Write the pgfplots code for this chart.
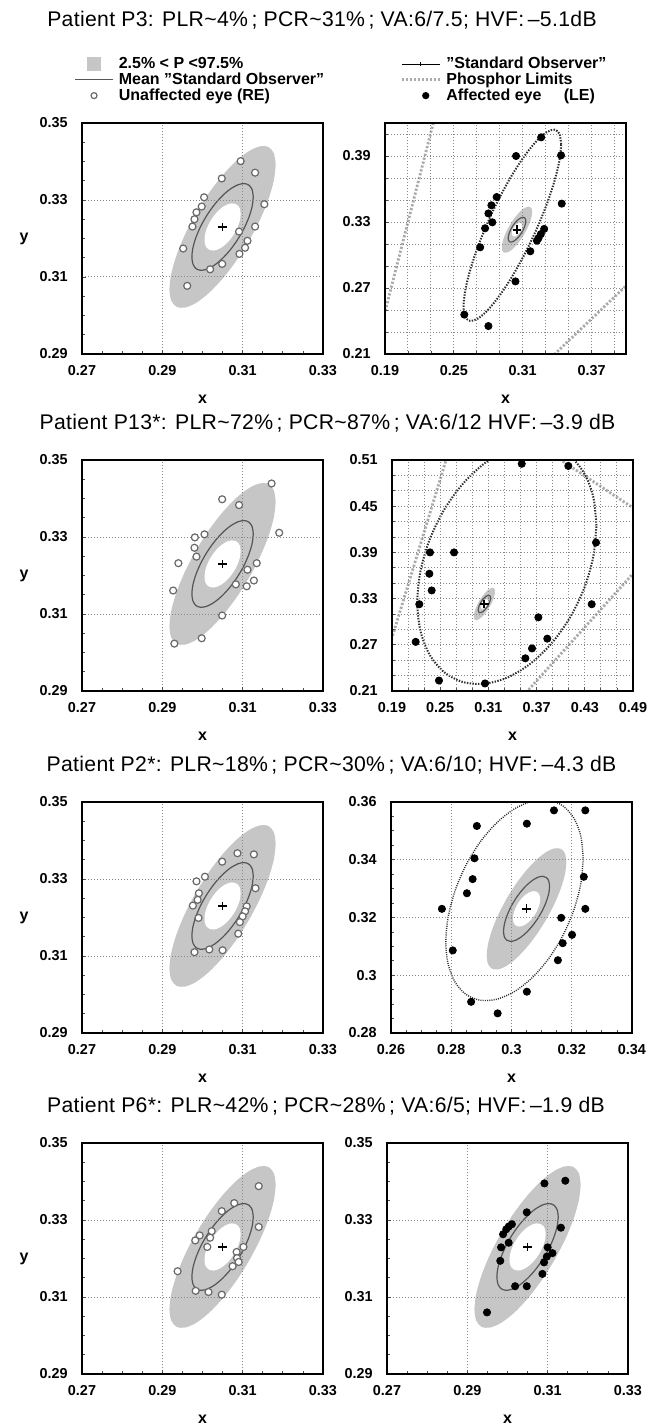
\documentclass[border=0pt]{standalone}
\usepackage{pgfplots}
\pgfplotsset{compat=1.18}
\usepackage{pgfplotstable}
\usepackage{fontspec}
\setmainfont{Liberation Sans}
\newfontfamily\titlefont{Liberation Sans}[LetterSpace=1.5]

\definecolor{band}{RGB}{198,198,198}
\definecolor{meangray}{RGB}{85,85,85}
\definecolor{circgray}{RGB}{105,105,105}
\definecolor{gridgray}{RGB}{135,135,135}
\definecolor{phosgray}{RGB}{170,170,170}
\definecolor{ellblack}{RGB}{45,45,45}

\pgfplotstableread{
x y
0.31823 0.33920
0.31778 0.34212
0.31646 0.34374
0.31436 0.34395
0.31162 0.34273
0.30842 0.34017
0.30500 0.33643
0.30158 0.33178
0.29839 0.32653
0.29565 0.32104
0.29354 0.31568
0.29222 0.31083
0.29177 0.30680
0.29222 0.30388
0.29354 0.30226
0.29565 0.30205
0.29839 0.30327
0.30158 0.30583
0.30500 0.30957
0.30842 0.31422
0.31161 0.31947
0.31436 0.32496
0.31646 0.33032
0.31778 0.33517
0.31823 0.33920
}\outerell

\pgfplotstableread{
x y
0.31264 0.33079
0.31238 0.33263
0.31161 0.33382
0.31040 0.33427
0.30882 0.33395
0.30698 0.33289
0.30500 0.33115
0.30302 0.32886
0.30118 0.32617
0.29960 0.32326
0.29839 0.32033
0.29762 0.31759
0.29736 0.31522
0.29762 0.31337
0.29839 0.31218
0.29960 0.31173
0.30118 0.31205
0.30302 0.31311
0.30500 0.31485
0.30698 0.31714
0.30882 0.31983
0.31040 0.32274
0.31161 0.32567
0.31238 0.32841
0.31264 0.33079
}\meanell

\pgfplotstableread{
x y
0.30950 0.32634
0.30935 0.32755
0.30890 0.32846
0.30818 0.32899
0.30725 0.32912
0.30617 0.32883
0.30500 0.32814
0.30384 0.32710
0.30275 0.32578
0.30182 0.32427
0.30110 0.32268
0.30065 0.32111
0.30050 0.31966
0.30065 0.31845
0.30110 0.31754
0.30182 0.31701
0.30275 0.31688
0.30384 0.31717
0.30500 0.31786
0.30617 0.31890
0.30725 0.32022
0.30818 0.32173
0.30890 0.32332
0.30935 0.32489
0.30950 0.32634
}\holeell

\pgfplotstableread{
x y
0.34350 0.40070
0.34205 0.41015
0.33780 0.41392
0.33105 0.41178
0.32225 0.40386
0.31200 0.39070
0.30100 0.37320
0.29000 0.35256
0.27975 0.33016
0.27095 0.30756
0.26420 0.28628
0.25995 0.26777
0.25850 0.25330
0.25995 0.24385
0.26420 0.24008
0.27095 0.24222
0.27975 0.25014
0.29000 0.26330
0.30100 0.28080
0.31200 0.30144
0.32225 0.32384
0.33105 0.34644
0.33780 0.36772
0.34205 0.38623
0.34350 0.40070
}\affA

\pgfplotstableread{
x y
0.44450 0.42500
0.44070 0.46155
0.42956 0.49220
0.41184 0.51487
0.38875 0.52800
0.36186 0.53070
0.33300 0.52280
0.30414 0.50482
0.27725 0.47800
0.25416 0.44415
0.23644 0.40560
0.22530 0.36495
0.22150 0.32500
0.22530 0.28845
0.23644 0.25780
0.25416 0.23513
0.27725 0.22200
0.30414 0.21930
0.33300 0.22720
0.36186 0.24518
0.38875 0.27200
0.41184 0.30585
0.42956 0.34440
0.44070 0.38505
0.44450 0.42500
}\affB

\pgfplotstableread{
x y
0.32380 0.34050
0.32302 0.34819
0.32074 0.35438
0.31712 0.35862
0.31240 0.36065
0.30690 0.36031
0.30100 0.35764
0.29510 0.35281
0.28960 0.34615
0.28488 0.33812
0.28126 0.32926
0.27898 0.32019
0.27820 0.31150
0.27898 0.30381
0.28126 0.29762
0.28488 0.29338
0.28960 0.29135
0.29510 0.29169
0.30100 0.29436
0.30690 0.29919
0.31240 0.30585
0.31712 0.31388
0.32074 0.32274
0.32302 0.33181
0.32380 0.34050
}\affC

\pgfplotsset{
  base/.style={
    scale only axis, width=120.5pt, height=115.5pt,
    anchor=north west, axis on top,
    tick align=inside, tick pos=left,
    major tick length=2pt, minor tick length=1.4pt,
    tick style={black!70, line width=0.4pt},
    axis line style={line width=1.1pt},
    major grid style={gridgray, line width=0.5pt, dash pattern=on 0.6pt off 0.9pt},
    minor grid style={gridgray, line width=0.5pt, dash pattern=on 0.6pt off 0.9pt},
    tick label style={font=\bfseries\fontsize{7.2}{8}\selectfont},
    /pgf/number format/assume math mode=true,
    xticklabel style={anchor=center, yshift=-8.5pt},
    yticklabel style={anchor=east, xshift=-3.6pt},
    xlabel={x},
    every axis x label/.style={at={(axis description cs:0.5,-0.195)}, anchor=center, font=\bfseries\fontsize{8}{9}\selectfont},
    every axis y label/.style={at={(axis description cs:-0.24,0.5)}, anchor=center, font=\bfseries\fontsize{8}{9}\selectfont},
  },
  leftp/.style={base, xmin=0.27, xmax=0.33, ymin=0.29, ymax=0.35,
    xtick={0.27,0.29,0.31,0.33}, ytick={0.29,0.31,0.33,0.35},
    minor tick num=3, grid=major, ylabel={y}},
  openpts/.style={only marks, mark=*, mark size=1.75pt, mark options={fill=white, draw=circgray, line width=0.6pt}},
  fillpts/.style={only marks, mark=*, mark size=1.8pt, mark options={fill=black, draw=black}},
  affell/.style={draw=ellblack, line width=1.0pt, dash pattern=on 0.7pt off 0.7pt, smooth},
  phos/.style={draw=phosgray, line width=1.4pt, dash pattern=on 1.1pt off 0.9pt},
  legsty/.style={legend style={draw=none, fill=none, inner sep=0pt, row sep=0.3pt, column sep=2.6pt,
      font=\bfseries\fontsize{8}{8}\selectfont,
      nodes={inner sep=0pt, text height=6.0pt, text depth=1.6pt}},
      legend cell align=left},
}

\newcommand{\stdobs}{%
  \addplot[fill=band, draw=none, smooth, forget plot] table {\outerell};
  \addplot[fill=white, draw=none, smooth, forget plot] table {\holeell};
  \addplot[draw=meangray, line width=0.6pt, smooth, forget plot] table {\meanell};
  \addplot[only marks, mark=+, mark size=2.2pt, mark options={line width=0.9pt}, forget plot] coordinates {(0.305,0.323)};
}
\newcommand{\qq}{\symbol{34}}
\newcommand{\tfont}{\titlefont\fontsize{10.6}{12}\selectfont}

\begin{document}
\begin{tikzpicture}
\useasboundingbox (0pt,0pt) rectangle (323.5pt,-712.5pt);

\node[font=\tfont] at (161pt,-10pt) {Patient P3: PLR\textasciitilde 4\%\,; PCR\textasciitilde 31\%\,; VA:6/7.5; HVF:\,–5.1dB};
\node[font=\tfont] at (163.75pt,-211.5pt) {Patient P13*: PLR\textasciitilde 72\%\,; PCR\textasciitilde 87\%\,; VA:6/12 HVF:\,–3.9 dB};
\node[font=\tfont] at (165.75pt,-382.5pt) {Patient P2*: PLR\textasciitilde 18\%\,; PCR\textasciitilde 30\%\,; VA:6/10; HVF:\,–4.3 dB};
\node[font=\tfont] at (163pt,-553pt) {Patient P6*: PLR\textasciitilde 42\%\,; PCR\textasciitilde 28\%\,; VA:6/5; HVF:\,–1.9 dB};

% ---------- Row 1 left
\begin{axis}[leftp, at={(41pt,-61.5pt)}, legsty,
  legend style={at={(axis description cs:-0.033,1.29)}, anchor=north west}]
  \addplot[fill=band, draw=none, smooth, area legend,
    legend image code/.code={\path[draw=none,fill=none] (0pt,-3pt) rectangle (19pt,3pt); \fill[band] (6pt,-3.6pt) rectangle (13pt,3.6pt);}] table {\outerell};
  \addlegendentry{2.5\% < P <97.5\%}
  \addplot[fill=white, draw=none, smooth, forget plot] table {\holeell};
  \addplot[draw=meangray, line width=0.6pt, smooth,
    legend image code/.code={\path[draw=none,fill=none] (0pt,-3pt) rectangle (19pt,3pt); \draw[meangray, line width=0.6pt] (0pt,0pt) -- (19pt,0pt);}] table {\meanell};
  \addlegendentry{Mean \qq Standard Observer\qq}
  \addplot[openpts,
    legend image code/.code={\path[draw=none,fill=none] (0pt,-3pt) rectangle (19pt,3pt); \draw[circgray, line width=0.6pt, fill=white] (9.5pt,0pt) circle (1.5pt);}] coordinates {
    (0.3095,0.3401) (0.3131,0.3371) (0.3048,0.3356) (0.3004,0.3307) (0.2998,0.3283) (0.3154,0.3289)
    (0.2985,0.3268) (0.2980,0.3250) (0.2975,0.3231) (0.3131,0.3231) (0.3091,0.3218) (0.3112,0.3194)
    (0.3106,0.3176) (0.3092,0.3160) (0.2952,0.3174) (0.3049,0.3134) (0.3019,0.3120) (0.2962,0.3077)};
  \addlegendentry{Unaffected eye (RE)}
  \addplot[only marks, mark=+, mark size=2.2pt, mark options={line width=0.9pt}, forget plot] coordinates {(0.305,0.323)};
\end{axis}

% ---------- Row 1 right
\begin{axis}[base, at={(192.5pt,-61.5pt)}, legsty,
  legend style={at={(axis description cs:0.062,1.29)}, anchor=north west},
  xmin=0.19, xmax=0.40, ymin=0.21, ymax=0.42,
  xtick={0.19,0.25,0.31,0.37}, ytick={0.21,0.27,0.33,0.39},
  minor xtick={0.21,0.23,0.27,0.29,0.33,0.35,0.39},
  minor ytick={0.23,0.25,0.29,0.31,0.35,0.37,0.41}, grid=both]
  \addplot[fill=band, draw=none, smooth, forget plot] table {\outerell};
  \addplot[fill=white, draw=none, smooth, forget plot] table {\holeell};
  \addplot[draw=meangray, line width=0.6pt, smooth, forget plot] table {\meanell};
  \addplot[only marks, mark=+, mark size=2.2pt, mark options={line width=0.9pt},
    legend image code/.code={\path[draw=none,fill=none] (0pt,-3pt) rectangle (19pt,3pt); \draw[black, line width=0.45pt] (0pt,0pt) -- (19pt,0pt); \draw[black, line width=0.45pt] (9.5pt,-1.1pt) -- (9.5pt,1.1pt);}] coordinates {(0.305,0.323)};
  \addlegendentry{\qq Standard Observer\qq}
  \addplot[phos,
    legend image code/.code={\path[draw=none,fill=none] (0pt,-3pt) rectangle (19pt,3pt); \draw[phosgray, line width=1.4pt, dash pattern=on 1.1pt off 0.9pt] (0pt,0pt) -- (19pt,0pt);}] coordinates {(0.185,0.228) (0.236,0.436)};
  \addlegendentry{Phosphor Limits}
  \addplot[phos, forget plot] coordinates {(0.33,0.202) (0.41,0.282)};
  \addplot[affell, forget plot] table {\affA};
  \addplot[fillpts,
    legend image code/.code={\path[draw=none,fill=none] (0pt,-3pt) rectangle (19pt,3pt); \fill[black] (12pt,0pt) circle (1.6pt);}] coordinates {
    (0.3261,0.4070) (0.3042,0.3900) (0.3434,0.3906) (0.2873,0.3527) (0.2827,0.3452) (0.2801,0.3378)
    (0.2835,0.3297) (0.2772,0.3243) (0.3440,0.3467) (0.3287,0.3237) (0.3258,0.3190) (0.3238,0.3154)
    (0.3224,0.3130) (0.2729,0.3070) (0.3166,0.3034) (0.3037,0.2760) (0.2591,0.2458) (0.2801,0.2354)};
  \addlegendentry{Affected eye\hspace{1.4em}(LE)}
\end{axis}

% ---------- Row 2 left
\begin{axis}[leftp, at={(41pt,-230pt)}]
  \stdobs
  \addplot[openpts] coordinates {
    (0.3172,0.3439) (0.3049,0.3398) (0.3091,0.3383) (0.3191,0.3311) (0.2981,0.3299) (0.3005,0.3307)
    (0.2980,0.3272) (0.2985,0.3249) (0.2940,0.3232) (0.3135,0.3232) (0.3112,0.3215) (0.3128,0.3187)
    (0.3083,0.3177) (0.3110,0.3172) (0.2927,0.3161) (0.3049,0.3096) (0.2998,0.3037) (0.2930,0.3023)};
\end{axis}

% ---------- Row 2 right
\begin{axis}[base, at={(196pt,-230pt)},
  xmin=0.19, xmax=0.49, ymin=0.21, ymax=0.51,
  xtick={0.19,0.25,0.31,0.37,0.43,0.49}, ytick={0.21,0.27,0.33,0.39,0.45,0.51},
  minor xtick={0.21,0.23,0.27,0.29,0.33,0.35,0.39,0.41,0.45,0.47},
  minor ytick={0.23,0.25,0.29,0.31,0.35,0.37,0.41,0.43,0.47,0.49}, grid=both]
  \stdobs
  \addplot[phos] coordinates {(0.185,0.262) (0.262,0.526)};
  \addplot[phos] coordinates {(0.35,0.20) (0.50,0.374)};
  \addplot[phos] coordinates {(0.39,0.517) (0.50,0.441)};
  \addplot[affell] table {\affB};
  \addplot[fillpts] coordinates {
    (0.3515,0.5051) (0.4095,0.5023) (0.4440,0.4028) (0.2373,0.3900) (0.2672,0.3900) (0.2365,0.3623)
    (0.2394,0.3406) (0.2240,0.3227) (0.4386,0.3227) (0.3722,0.3057) (0.2195,0.2738) (0.3833,0.2780)
    (0.3643,0.2653) (0.3560,0.2525) (0.2485,0.2236) (0.3058,0.2198)};
\end{axis}

% ---------- Row 3 left
\begin{axis}[leftp, at={(41pt,-401pt)}]
  \stdobs
  \addplot[openpts] coordinates {
    (0.3087,0.3367) (0.3128,0.3364) (0.3049,0.3345) (0.3006,0.3306) (0.2985,0.3294) (0.3132,0.3276)
    (0.2991,0.3263) (0.2988,0.3246) (0.2976,0.3231) (0.3110,0.3229) (0.3106,0.3216) (0.3100,0.3203)
    (0.3093,0.3188) (0.2990,0.3199) (0.3089,0.3158) (0.2980,0.3110) (0.3017,0.3117) (0.3050,0.3115)};
\end{axis}

% ---------- Row 3 right
\begin{axis}[base, at={(195.5pt,-401pt)},
  xmin=0.26, xmax=0.34, ymin=0.28, ymax=0.36,
  xtick={0.26,0.28,0.3,0.32,0.34}, ytick={0.28,0.3,0.32,0.34,0.36},
  minor tick num=3, grid=major]
  \stdobs
  \addplot[draw=ellblack, line width=0.7pt, dash pattern=on 0.5pt off 0.6pt, smooth] table {\affC};
  \addplot[fillpts] coordinates {
    (0.3141,0.3571) (0.3245,0.3571) (0.3051,0.3525) (0.2885,0.3517) (0.2877,0.3405) (0.2871,0.3333)
    (0.2852,0.3284) (0.3240,0.3341) (0.2769,0.3230) (0.3245,0.3230) (0.3165,0.3199) (0.3201,0.3140)
    (0.3170,0.3111) (0.2805,0.3086) (0.3154,0.3052) (0.3051,0.2943) (0.2866,0.2908) (0.2954,0.2868)};
\end{axis}

% ---------- Row 4 left
\begin{axis}[leftp, at={(41pt,-571.5pt)}]
  \stdobs
  \addplot[openpts] coordinates {
    (0.3140,0.3388) (0.3079,0.3344) (0.3048,0.3323) (0.3140,0.3282) (0.3023,0.3271) (0.2993,0.3260)
    (0.2982,0.3247) (0.3019,0.3254) (0.3012,0.3230) (0.3102,0.3230) (0.3085,0.3217) (0.3086,0.3201)
    (0.3090,0.3191) (0.3075,0.3180) (0.2938,0.3167) (0.2983,0.3116) (0.3015,0.3113) (0.3048,0.3106)};
\end{axis}

% ---------- Row 4 right
\begin{axis}[base, at={(193.5pt,-571.5pt)},
  xmin=0.27, xmax=0.33, ymin=0.29, ymax=0.35,
  xtick={0.27,0.29,0.31,0.33}, ytick={0.29,0.31,0.33,0.35},
  minor tick num=3, grid=major]
  \stdobs
  \addplot[fillpts] coordinates {
    (0.3144,0.3402) (0.3092,0.3395) (0.3048,0.3320) (0.3011,0.3289) (0.3003,0.3283) (0.2997,0.3276)
    (0.2989,0.3263) (0.3133,0.3280) (0.3003,0.3241) (0.2984,0.3229) (0.3100,0.3229) (0.3112,0.3214)
    (0.3098,0.3205) (0.3091,0.3190) (0.2982,0.3194) (0.3087,0.3160) (0.3019,0.3128) (0.3048,0.3128)
    (0.2949,0.3060)};
\end{axis}
\end{tikzpicture}
\end{document}
